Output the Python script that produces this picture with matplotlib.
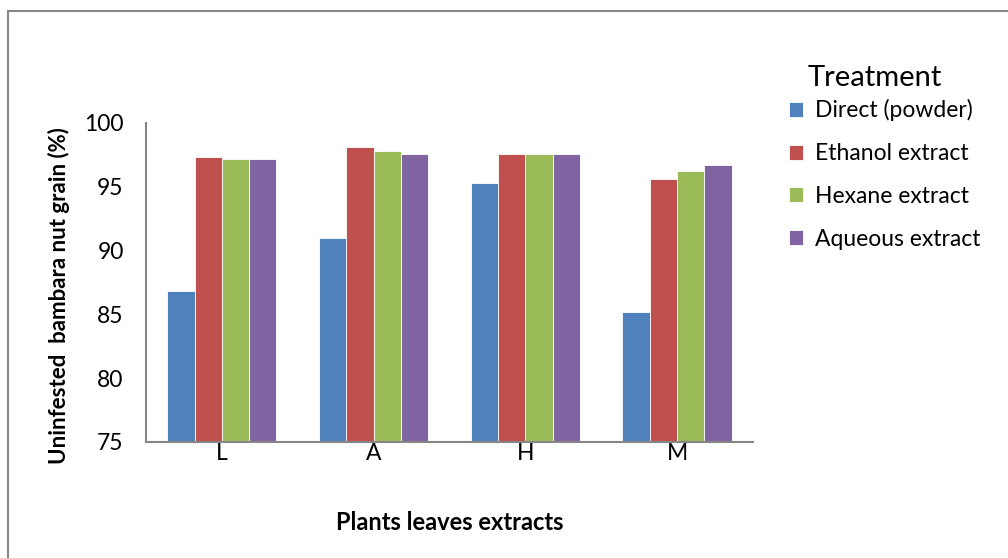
import numpy as np
import matplotlib.pyplot as plt
from matplotlib.patches import Rectangle

plt.rcParams['font.family'] = ['Lato', 'DejaVu Sans']

# percentage of uninfested grain per plant extract and treatment
plants = ['L', 'A', 'H', 'M']
treatments = ['Direct (powder)', 'Ethanol extract', 'Hexane extract', 'Aqueous extract']
direct = [86.8, 91.0, 95.3, 85.2]
ethanol = [97.3, 98.1, 97.6, 95.6]
hexane = [97.2, 97.8, 97.6, 96.2]
aqueous = [97.2, 97.6, 97.6, 96.7]
colors = ['#4f81bd', '#c0504d', '#9bbb59', '#8064a2']

fig = plt.figure(figsize=(10.08, 5.58), dpi=100)
ax = fig.add_axes([0.1448, 0.2079, 0.6022, 0.5717])

x = np.arange(len(plants))
w = 0.18
for i, (vals, lab) in enumerate(zip([direct, ethanol, hexane, aqueous], treatments)):
    ax.bar(x + (i - 1.5) * w, vals, w, color=colors[i], label=lab,
           edgecolor='white', linewidth=0.6)

ax.set_ylim(75, 100)
ax.set_xlim(-0.5, 3.5)
ax.set_yticks([75, 80, 85, 90, 95, 100])
ax.set_xticks(x)
ax.set_xticklabels(plants)
ax.tick_params(axis='both', length=0, labelsize=16.5, colors='black')
ax.tick_params(axis='y', pad=16)
ax.tick_params(axis='x', pad=1)

for s in ['top', 'right']:
    ax.spines[s].set_visible(False)
for s in ['left', 'bottom']:
    ax.spines[s].set_color('#868686')
    ax.spines[s].set_linewidth(1.5)

ax.set_ylabel('Uninfested  bambara nut grain (%)', fontsize=16, fontweight='bold')
ax.yaxis.set_label_coords(-0.125, 0.46)
ax.set_xlabel('Plants leaves extracts', fontsize=17, fontweight='bold', va='top')
ax.xaxis.set_label_coords(0.5, -0.215)

leg = fig.legend(loc='upper left', bbox_to_anchor=(0.771, 0.8425), frameon=False,
                 fontsize=16.5, borderpad=0, handlelength=0.64, handleheight=0.64,
                 handletextpad=0.5, labelspacing=0.95)
fig.text(808 / 1008, 1 - 78 / 558, 'Treatment', fontsize=21, va='center', ha='left')

# outer chart border
fig.patches.append(Rectangle((8 / 1008, -0.1), 1.1, 1.1 - 11 / 558,
                             transform=fig.transFigure, fill=False,
                             edgecolor='#868686', linewidth=1.5))

fig.savefig('out.png', dpi=100)
